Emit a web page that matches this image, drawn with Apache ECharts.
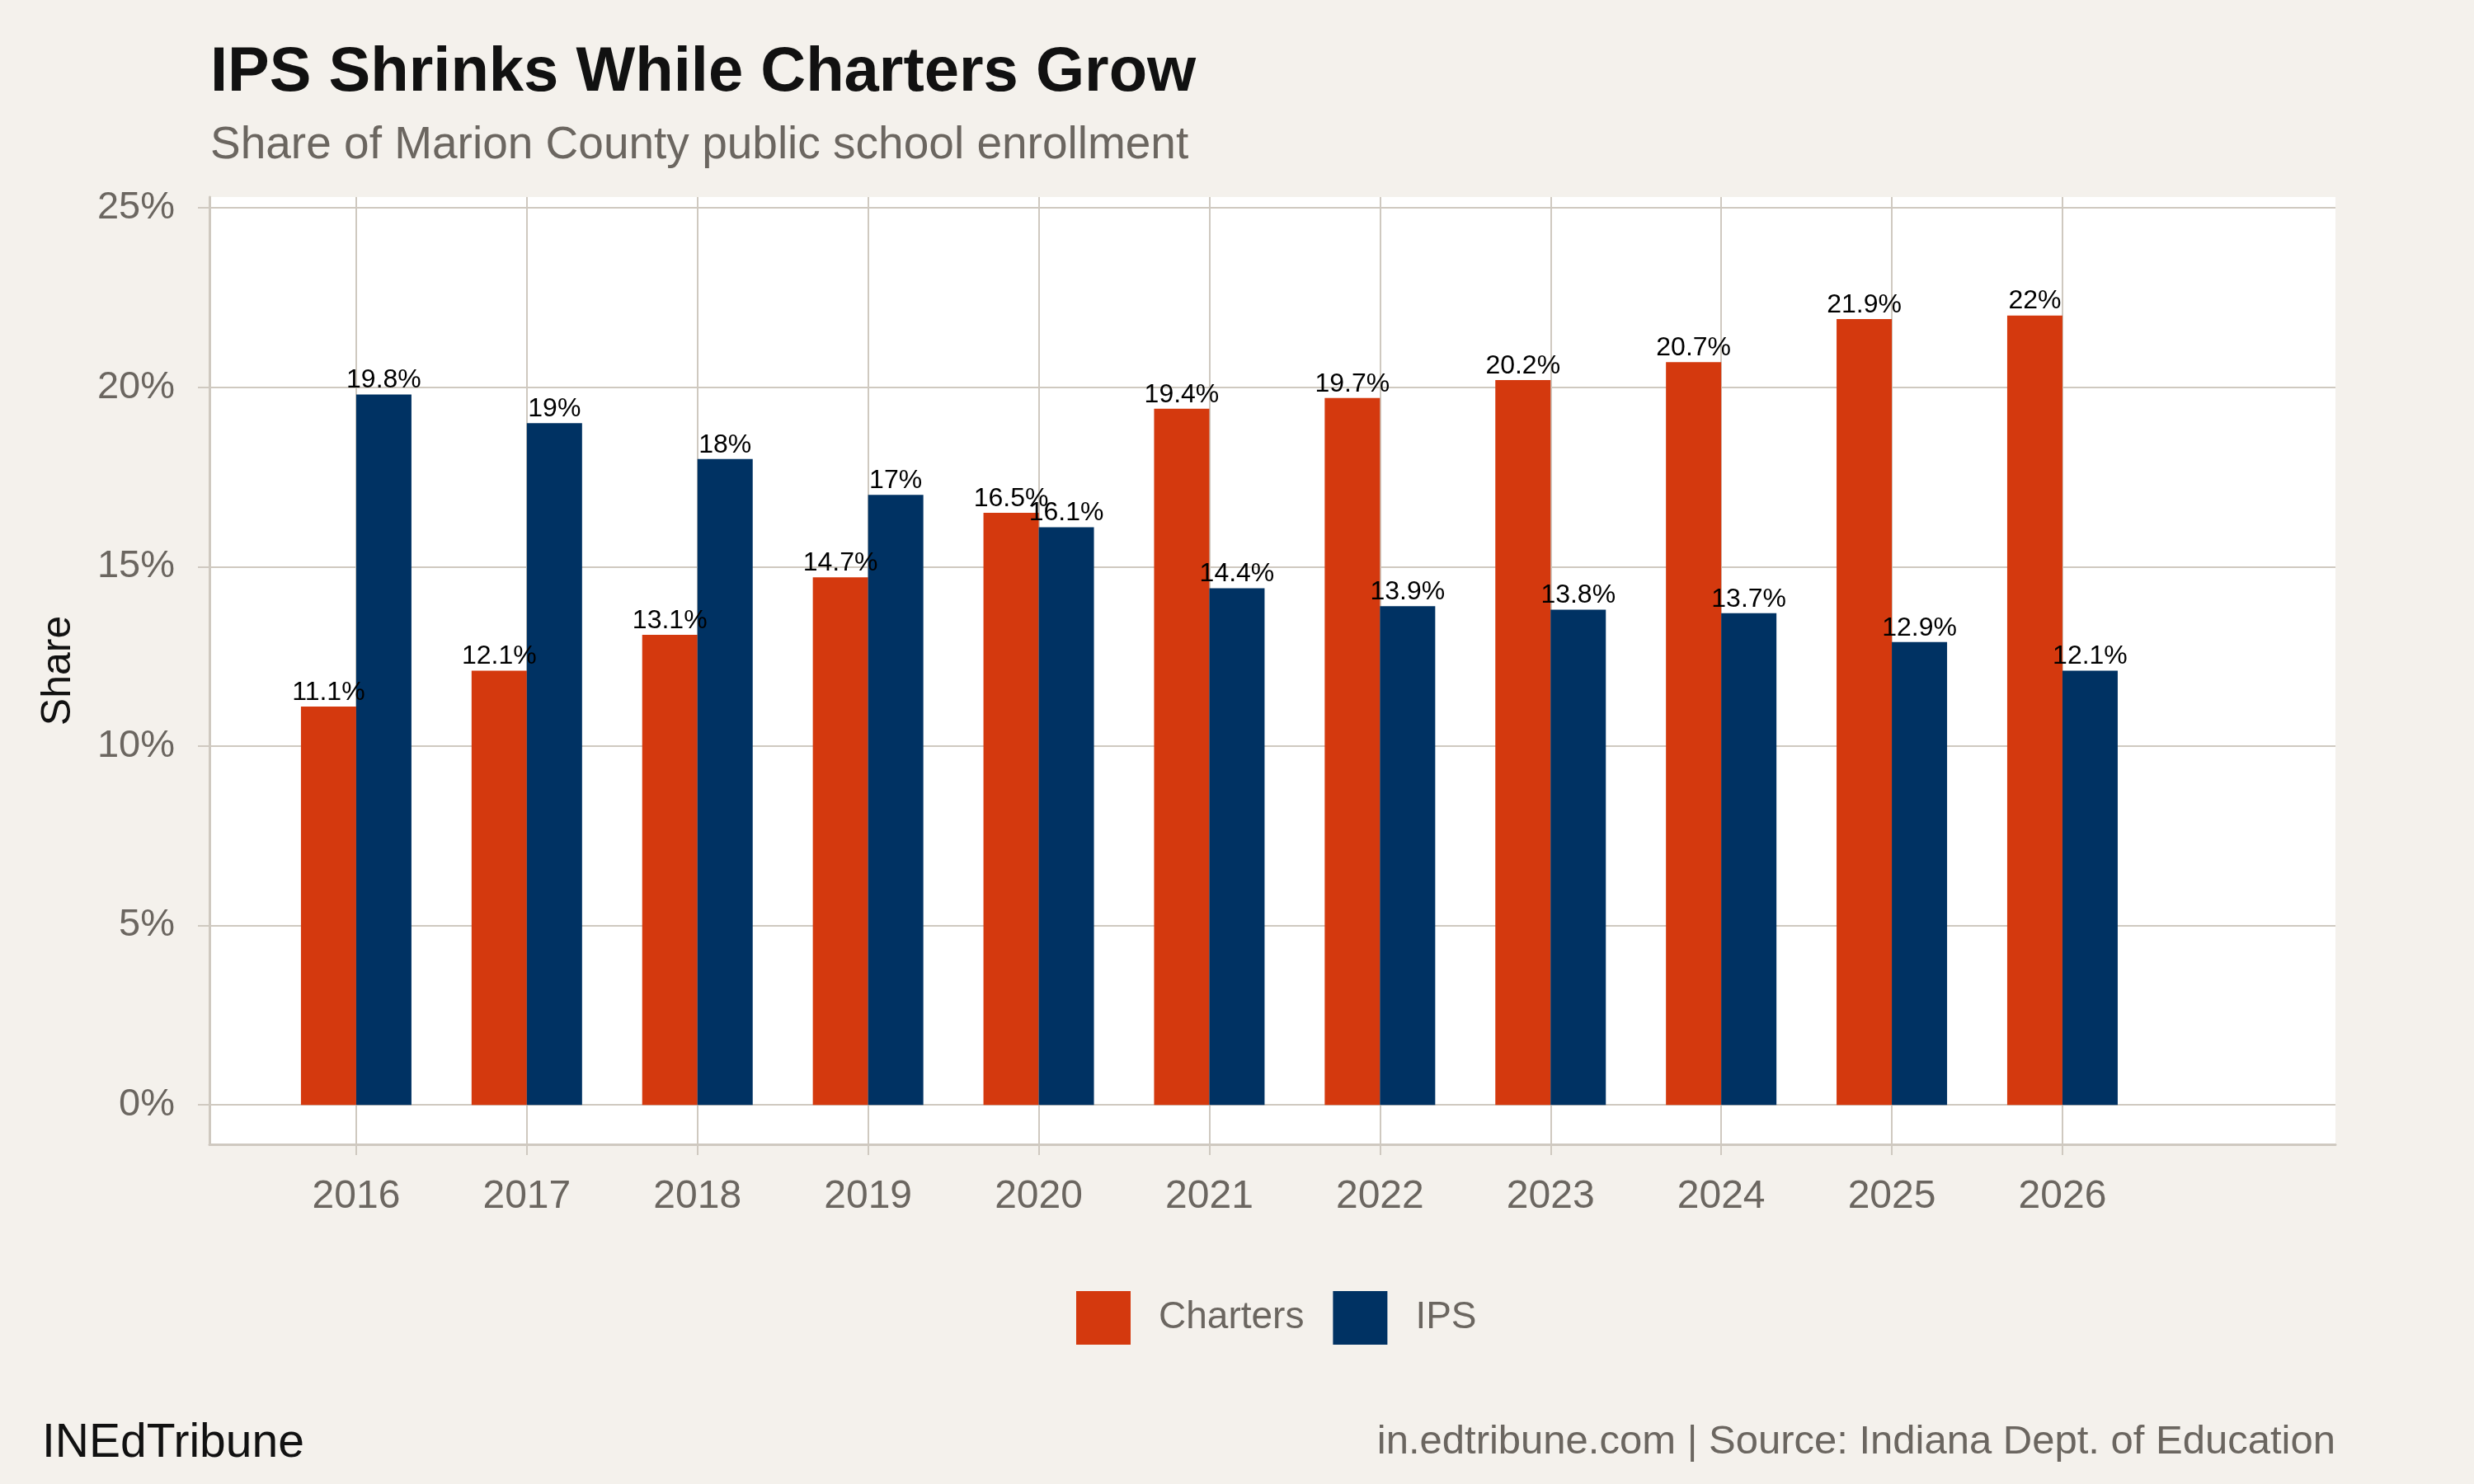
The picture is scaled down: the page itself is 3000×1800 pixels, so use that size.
<!DOCTYPE html>
<html>
<head>
<meta charset="utf-8">
<script src="https://cdn.jsdelivr.net/npm/echarts@6/dist/echarts.min.js"></script>
<style>
  html, body { margin: 0; padding: 0; background: #F4F1EC; }
  #main { width: 3000px; height: 1800px; }
</style>
</head>
<body>
<div id="main"></div>
<script>
// datos
var years = [2016, 2017, 2018, 2019, 2020, 2021, 2022, 2023, 2024, 2025, 2026];
var charters = [11.1, 12.1, 13.1, 14.7, 16.5, 19.4, 19.7, 20.2, 20.7, 21.9, 22.0];
var ips = [19.8, 19.0, 18.0, 17.0, 16.1, 14.4, 13.9, 13.8, 13.7, 12.9, 12.1];
var yTicks = [0, 5, 10, 15, 20, 25];

var FONT = 'Liberation Sans';
var GRID = '#CFC9C0';
var GRAY = '#6B6660';

function toPairs(vals) {
  return years.map(function (yr, i) { return [yr, vals[i]]; });
}

function barSeries(name, vals, color) {
  return {
    name: name,
    type: 'bar',
    data: toPairs(vals),
    barWidth: 67,
    barGap: '0%',
    itemStyle: { color: color },
    label: {
      show: true,
      position: 'top',
      distance: 1,
      fontFamily: FONT,
      fontSize: 32,
      color: '#000',
      formatter: function (p) { return p.value[1] + '%'; }
    }
  };
}

var myChart = echarts.init(document.getElementById('main'));

var option = {
  backgroundColor: '#F4F1EC',
  animation: false,
  textStyle: { fontFamily: FONT },
  title: [
    {
      text: 'IPS Shrinks While Charters Grow',
      left: 255, top: 51, padding: 0,
      textStyle: { fontFamily: FONT, fontSize: 76, fontWeight: 'bold', color: '#111' }
    },
    {
      text: 'Share of Marion County public school enrollment',
      left: 255, top: 149, padding: 0,
      textStyle: { fontFamily: FONT, fontSize: 55, fontWeight: 'normal', color: GRAY }
    },
    {
      text: 'INEdTribune',
      left: 51, top: 1723, padding: 0,
      textStyle: { fontFamily: FONT, fontSize: 57, fontWeight: 'normal', color: '#111' }
    },
    {
      text: 'in.edtribune.com | Source: Indiana Dept. of Education',
      right: 168, top: 1725, padding: 0,
      textStyle: { fontFamily: FONT, fontSize: 49, fontWeight: 'normal', color: GRAY }
    }
  ],
  legend: {
    left: 1305, top: 1566, padding: 0,
    icon: 'rect',
    itemWidth: 66, itemHeight: 65, itemGap: 35,
    textStyle: { fontFamily: FONT, fontSize: 46, color: GRAY, padding: [0, 0, 0, 29] },
    data: ['Charters', 'IPS']
  },
  grid: {
    left: 254, right: 168, top: 239, bottom: 412,
    show: true, backgroundColor: '#FFFFFF', borderWidth: 0
  },
  xAxis: {
    type: 'value',
    min: 2015.14, max: 2027.6,
    axisLine: { show: true, onZero: false, lineStyle: { color: GRID, width: 3 } },
    axisTick: { show: true, length: 13, customValues: years, lineStyle: { color: GRID, width: 2 } },
    axisLabel: { customValues: years, margin: 40, fontFamily: FONT, fontSize: 48, color: GRAY,
      formatter: function (v) { return String(v); } },
    splitLine: { show: true, lineStyle: { color: GRID, width: 2 } }
  },
  yAxis: {
    type: 'value',
    min: -1.1, max: 25.3,
    name: 'Share',
    nameLocation: 'middle',
    nameRotate: 90,
    nameGap: 158,
    nameTextStyle: { fontFamily: FONT, fontSize: 50, color: '#111' },
    axisLine: { show: true, lineStyle: { color: GRID, width: 3 } },
    axisTick: { show: true, length: 14, customValues: yTicks, lineStyle: { color: GRID, width: 2 } },
    axisLabel: { customValues: yTicks, margin: 42, fontFamily: FONT, fontSize: 47, color: GRAY,
      formatter: function (v) { return v + '%'; } },
    splitLine: { show: true, lineStyle: { color: GRID, width: 2 } }
  },
  series: [
    barSeries('Charters', charters, '#D4390E'),
    barSeries('IPS', ips, '#003263')
  ]
};

myChart.setOption(option);
</script>
</body>
</html>
